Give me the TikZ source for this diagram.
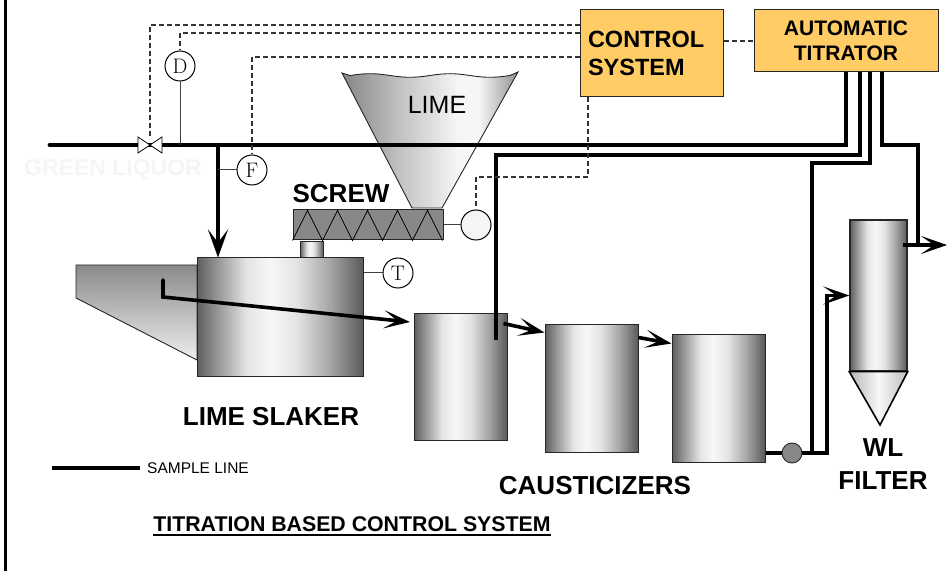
\documentclass[tikz,border=0pt]{standalone}
\usepackage{fontspec}
\newfontfamily\arial{Liberation Sans}
\usetikzlibrary{arrows.meta}

\definecolor{boxfill}{HTML}{FFCC66}
\definecolor{sigcol}{HTML}{333333}
\definecolor{screwgray}{HTML}{888888}
\definecolor{tk0}{HTML}{5E5E5E}
\definecolor{tk1}{HTML}{8C8C8C}
\definecolor{tk2}{HTML}{E4E4E4}
\definecolor{tk3}{HTML}{F7F7F7}
\definecolor{tk4}{HTML}{A6A6A6}
\definecolor{tk5}{HTML}{5A5A5A}
\definecolor{hp0}{HTML}{858585}
\definecolor{hp1}{HTML}{C4C4C4}
\definecolor{hp2}{HTML}{F6F6F6}
\definecolor{hp3}{HTML}{8F8F8F}
\definecolor{cn0}{HTML}{B5B5B5}
\definecolor{cn1}{HTML}{F8F8F8}
\definecolor{cn2}{HTML}{BEBEBE}
\definecolor{trtop}{HTML}{8A8A8A}
\definecolor{trbot}{HTML}{EEEEEE}

\pgfdeclarehorizontalshading{tank}{100bp}{color(0bp)=(tk0); color(25bp)=(tk0); color(30bp)=(tk1); color(40bp)=(tk2); color(47bp)=(tk3); color(55bp)=(tk2); color(65bp)=(tk4); color(75bp)=(tk5); color(100bp)=(tk5)}
\pgfdeclarehorizontalshading{hopper}{100bp}{color(0bp)=(hp0); color(25bp)=(hp0); color(42bp)=(hp1); color(58bp)=(hp2); color(64bp)=(hp2); color(75bp)=(hp3); color(100bp)=(hp3)}
\pgfdeclarehorizontalshading{cone}{100bp}{color(0bp)=(cn0); color(25bp)=(cn0); color(50bp)=(cn1); color(75bp)=(cn2); color(100bp)=(cn2)}

\tikzset{
  box/.style={draw=black!85, line width=1pt, fill=boxfill, inner sep=0pt},
  inst/.style={circle, draw=black, line width=1pt, fill=white, minimum size=30pt, inner sep=0pt, font=\fontsize{21}{22}\selectfont},
  vessel/.style={rectangle, draw=black!85, line width=1pt, shade, shading=tank, inner sep=0pt},
  pipe/.style={line width=4.8pt},
  sline/.style={line width=3.6pt},
  flowarrow/.style={-{Stealth[length=26pt,width=18pt,inset=13pt]}},
  bigarrow/.style={-{Stealth[length=28pt,width=20pt,inset=13pt]}},
  sig/.style={draw=sigcol, line width=1.1pt, dash pattern=on 5pt off 3pt},
  tap/.style={draw=black!75, line width=1pt},
  lbl/.style={font=\arial\bfseries\fontsize{26}{33}\selectfont, inner sep=0pt, align=center},
}

\begin{document}
\begin{tikzpicture}[x=1pt, y=1pt]
    \useasboundingbox (0,0) rectangle (951,571);

    % 左边框
    \draw[line width=3pt] (5,0) -- (5,571);

    % 控制系统、自动滴定仪
    \node[box, minimum width=143pt, minimum height=87pt, text width=127pt, align=left,
          font=\arial\bfseries\fontsize{23.5}{28}\selectfont] (ctrl) at (651.5,517.5) {CONTROL\\SYSTEM};
    \node[box, minimum width=184pt, minimum height=62pt, align=center,
          font=\arial\bfseries\fontsize{21}{25}\selectfont] (titr) at (846,530) {AUTOMATIC\\TITRATOR};

    % 石灰料斗
    \shade[shading=hopper, draw=black!85, line width=0.9pt] (342,498)
        -- plot[domain=350:510, samples=60, smooth] (\x, {495.5+1.8*sin(4.5*(\x-350))})
        -- (518,499) -- (442,363) -- (412,363) -- cycle;
    \node[font=\arial\fontsize{25}{28}\selectfont, inner sep=0pt] (lbllime) at (437,466) {LIME};

    % 螺旋给料机
    \node[draw=black!85, line width=1pt, fill=screwgray, minimum width=150pt, minimum height=30pt, inner sep=0pt] (screw) at (368,346) {};
    \draw[line width=0.8pt] (screw.south west) \foreach \i in {0,...,4} { -- ++(15,30) -- ++(15,-30) };
    \node[vessel, minimum width=23pt, minimum height=16pt] (stub) at (311.5,321) {};
    \node[inst, fill=black!4] (M) at (476,346) {};
    \draw[tap] (screw.east) -- (M.west);
    \node[lbl] (lblscrew) at (341,377) {SCREW};

    % 化灰机
    \shade[top color=trtop, bottom color=trbot, draw=black!85, line width=0.9pt]
        (76,306) -- (197,306) -- (197,211) -- (76,273) -- cycle;
    \node[vessel, minimum width=166pt, minimum height=119pt] (slaker) at (280,253.5) {};
    \node[inst] (T) at (398,298) {T};
    \draw[tap] (slaker.east |- T) -- (T.west);
    \node[lbl] (lblslaker) at (271,154) {LIME SLAKER};

    % 苛化器
    \node[vessel, minimum width=93pt, minimum height=126pt] (c1) at (460.5,194) {};
    \node[vessel, minimum width=93pt, minimum height=127pt] (c2) at (591.5,182.5) {};
    \node[vessel, minimum width=93pt, minimum height=127pt] (c3) at (718.5,172.5) {};
    \node[lbl] (lblcaus) at (595,85) {CAUSTICIZERS};

    % 白液过滤器
    \node[vessel, line width=1.4pt, minimum width=57pt, minimum height=151pt] (filter) at (878.5,275.5) {};
    \shade[shading=cone, draw=black, line width=1.6pt] (filter.south west) -- (filter.south east) -- (880,146) -- cycle;
    \node[lbl] (lblwl) at (883,106.5) {WL\\FILTER};

    % 绿液管
    \coordinate (gl0) at (50,426);
    \coordinate (glj) at (218,426);
    \draw[pipe, bigarrow, line cap=round] (gl0) -- (glj) -- (glj |- slaker.north);
    \node[font=\arial\bfseries\fontsize{23}{26}\selectfont, text=black!4, inner sep=0pt] (lblgl) at (113,401) {GREEN LIQUOR};

    % 取样管
    \coordinate (b2) at (496,416);
    \coordinate (dip) at (496,231);
    \coordinate (b3) at (812,408);
    \coordinate (j3) at (812,118);
    \coordinate (b4) at (918,426);
    \coordinate (b4e) at (918,326);
    \draw[sline] (titr.south) |- (glj);
    \draw[sline] ([xshift=14pt]titr.south) |- (b2) -- (dip);
    \draw[sline] ([xshift=24pt]titr.south) |- (b3) -- (j3);
    \draw[sline] ([xshift=36pt]titr.south) |- (b4) -- (b4e);

    % 物料流向
    \coordinate (so1) at (163,291);
    \coordinate (so2) at (163,274);
    \coordinate (c1in) at (410,249);
    \draw[sline, flowarrow, line cap=round] (so1) -- (so2) -- (c1in);
    \draw[sline, flowarrow] ([xshift=-4pt, yshift=-10pt]c1.north east) -- ([yshift=-8pt]c2.north west);
    \draw[sline, flowarrow] ([yshift=-13pt]c2.north east) -- ([yshift=-9pt]c3.north west);
    \node[circle, draw=black!85, line width=0.9pt, fill=screwgray, minimum size=20pt, inner sep=0pt] (P) at (792,118) {};
    \coordinate (pb) at (827,118);
    \draw[sline] (c3.east |- P) -- (P.west);
    \draw[sline, flowarrow] (P.east) -- (pb) |- (filter.west);
    \coordinate (wlin) at (903,326);
    \coordinate (wlout) at (947,326);
    \draw[sline, flowarrow] (wlin) -- (wlout);

    % 阀门与仪表
    \coordinate (vlv) at (150,426);
    \node[inst] (D) at (180,505) {D};
    \node[inst] (F) at (252,401) {F};
    \draw[tap] (D.south) -- (D.south |- gl0);
    \draw[tap] (F.west) -- (F.west -| glj);

    % 控制信号（虚线）
    \coordinate (r1) at (150,546);
    \coordinate (r2) at (180,538);
    \coordinate (r3) at (252,514);
    \coordinate (r4) at (588,394);
    \draw[sig] (ctrl.west |- r1) -- (r1) -- ([yshift=8pt]vlv);
    \draw[sig] (ctrl.west |- r2) -| (D.north);
    \draw[sig] (ctrl.west |- r3) -| (F.north);
    \draw[sig] (ctrl.south -| r4) -- (r4) -| (M.north);
    \draw[sig] (ctrl.east |- titr.west) -- (titr.west);
    \draw[fill=white, line width=0.8pt] (138,434) -- (162,418) -- (162,434) -- (138,418) -- cycle;

    % 图例与标题
    \coordinate (lg0) at (52,103);
    \node[anchor=west, font=\arial\fontsize{15.5}{18}\selectfont, inner sep=0pt] (lgdtxt) at (147,103) {SAMPLE LINE};
    \draw[sline] (lg0) -- ([xshift=-7pt]lgdtxt.west);
    \node[font=\arial\bfseries\fontsize{21.3}{24}\selectfont, inner sep=0pt] (title) at (352,47) {TITRATION BASED CONTROL SYSTEM};
    \draw[line width=1.6pt] ([yshift=-3.5pt]title.base west) -- ([yshift=-3.5pt]title.base east);
\end{tikzpicture}
\end{document}
